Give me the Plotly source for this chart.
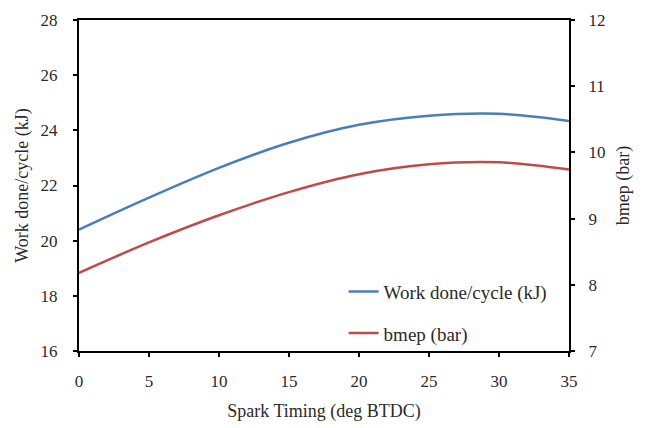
import plotly.graph_objects as go

# Spark timing sweep (deg BTDC)
spark_timing = [0, 5, 10, 15, 20, 25, 30, 35]
# Work done per cycle (kJ), left axis
work_done = [20.40, 21.56, 22.64, 23.55, 24.20, 24.53, 24.60, 24.34]
# Brake mean effective pressure (bar), right axis
bmep = [8.18, 8.64, 9.05, 9.40, 9.67, 9.82, 9.85, 9.74]

x_ticks = [0, 5, 10, 15, 20, 25, 30, 35]
left_ticks = [16, 18, 20, 22, 24, 26, 28]
right_ticks = [7, 8, 9, 10, 11, 12]

FONT = "Liberation Serif"
TXT = "#2a2a2a"

fig = go.Figure()
fig.add_trace(go.Scatter(
    x=spark_timing, y=work_done, mode="lines", name="Work done/cycle (kJ)",
    line=dict(color="#4A7EBB", width=2.5, shape="spline", smoothing=1.0),
    legendgroup="a", yaxis="y"))
fig.add_trace(go.Scatter(
    x=spark_timing, y=bmep, mode="lines", name="bmep (bar)",
    line=dict(color="#BE4B48", width=2.5, shape="spline", smoothing=1.0),
    legendgroup="b", yaxis="y2"))

axis_common = dict(showgrid=False, zeroline=False, showline=True,
                   linecolor="black", linewidth=2, ticks="outside",
                   ticklen=4, tickwidth=2, tickcolor="black",
                   tickfont=dict(family=FONT, size=17, color=TXT))

fig.update_layout(
    width=649, height=428,
    margin=dict(l=79, r=80, t=20, b=77, autoexpand=False),
    paper_bgcolor="white", plot_bgcolor="white",
    font=dict(family=FONT, size=18, color=TXT),
    xaxis=dict(range=[0, 35], tickvals=x_ticks, mirror=True,
               ticklabelstandoff=10,
               title=dict(text="Spark Timing (deg BTDC)",
                          font=dict(family=FONT, size=18, color=TXT),
                          standoff=14),
               **axis_common),
    yaxis=dict(range=[16, 28], tickvals=left_ticks,
               ticklabelstandoff=12,
               title=dict(text="Work done/cycle (kJ)",
                          font=dict(family=FONT, size=18, color=TXT),
                          standoff=7),
               **axis_common),
    yaxis2=dict(range=[7, 12], tickvals=right_ticks, overlaying="y",
                side="right", ticklabelstandoff=10,
                title=dict(text="bmep (bar)",
                           font=dict(family=FONT, size=18, color=TXT),
                           standoff=12),
                **axis_common),
    legend=dict(x=0.54, y=0.237, xanchor="left", yanchor="top",
                bgcolor="rgba(0,0,0,0)", tracegroupgap=14,
                font=dict(family=FONT, size=19, color=TXT)),
    showlegend=True,
)

fig.write_html("out.html")
